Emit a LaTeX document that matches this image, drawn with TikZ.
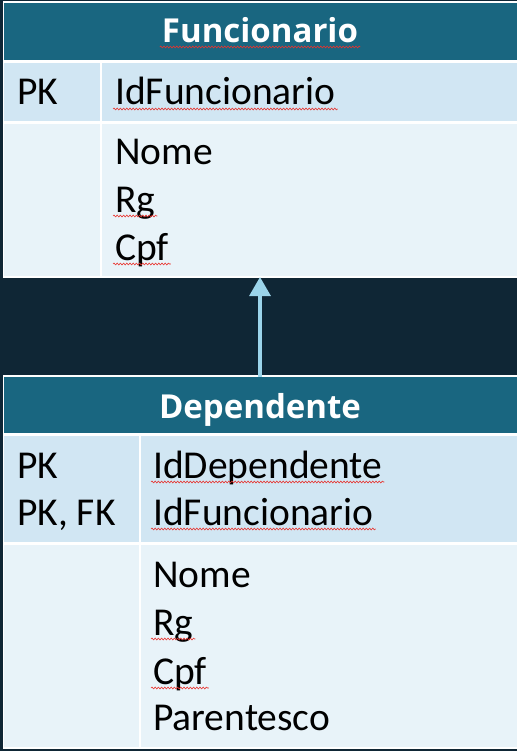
\documentclass[tikz,border=0pt]{standalone}
\usepackage{fontspec}
\setmainfont{Carlito}
\newfontfamily\hfont{Open Sans}
\usetikzlibrary{arrows.meta,calc,decorations.pathmorphing}
\definecolor{bgc}{HTML}{0F2635}
\definecolor{hdrc}{HTML}{196680}
\definecolor{keyc}{HTML}{D1E6F3}
\definecolor{attc}{HTML}{E8F3F9}
\definecolor{arrc}{HTML}{9BD4EA}
\definecolor{squigc}{HTML}{E8332E}
\begin{document}
\begin{tikzpicture}[x=1pt,y=-1pt,
  cell/.style={draw=none,inner sep=0pt,outer sep=0pt,anchor=north west},
  hdrcell/.style={cell,fill=hdrc},
  keycell/.style={cell,fill=keyc},
  attcell/.style={cell,fill=attc},
  txt/.style={inner sep=0pt,anchor=base west,font=\fontsize{39.5}{46}\selectfont,text=black},
  htxt/.style={inner sep=0pt,anchor=base,font=\hfont\bfseries\fontsize{33}{38}\selectfont,text=white},
  squig/.style={draw=squigc,line width=0.6pt,decorate,decoration={snake,amplitude=0.9pt,segment length=3.2pt}},
  rel/.style={draw=arrc,line width=3.2pt,-{Triangle[width=21pt,length=19pt]}}
]
\useasboundingbox (0,0) rectangle (517,751);
\fill[bgc] (0,0) rectangle (517,751);

% ---- Table 1: Funcionario
\fill[white] (3,1) rectangle (517,278);
\node[hdrcell,minimum width=513pt,minimum height=57pt] (h1) at (4,3) {};
\node[keycell,minimum width=96pt,minimum height=58pt] (k1a) at (4,63) {};
\node[keycell,minimum width=415pt,minimum height=58pt] (k1b) at (102,63) {};
\node[attcell,minimum width=96pt,minimum height=152pt] (a1a) at (4,124) {};
\node[attcell,minimum width=415pt,minimum height=152pt] (a1b) at (102,124) {};

\node[htxt] (t1) at (260,43) {Funcionario};
\node[txt] (pk1) at (17,105) {PK};
\node[txt] (idf1) at (115,105) {IdFuncionario};
\node[txt] (nome1) at (115,165) {Nome};
\node[txt] (rg1) at (115,212) {Rg};
\node[txt] (cpf1) at (115,260) {Cpf};

% ---- Table 2: Dependente
\fill[white] (3,375) rectangle (517,749);
\node[hdrcell,minimum width=513pt,minimum height=56pt] (h2) at (4,377) {};
\node[keycell,minimum width=135pt,minimum height=106pt] (k2a) at (4,436) {};
\node[keycell,minimum width=376pt,minimum height=106pt] (k2b) at (141,436) {};
\node[attcell,minimum width=135pt,minimum height=202pt] (a2a) at (4,545) {};
\node[attcell,minimum width=376pt,minimum height=202pt] (a2b) at (141,545) {};

\node[htxt] (t2) at (260,418) {Dependente};
\node[txt] (pk2) at (17,478) {PK};
\node[txt] (pkfk2) at (17,525) {PK, FK};
\node[txt] (idd2) at (153,478) {IdDependente};
\node[txt] (idf2) at (153,525) {IdFuncionario};
\node[txt] (nome2) at (153,587) {Nome};
\node[txt] (rg2) at (153,635) {Rg};
\node[txt] (cpf2) at (153,684) {Cpf};
\node[txt] (par2) at (153,730) {Parentesco};

% ---- spell-check squiggles
\foreach \n in {t1,idf1,rg1,cpf1,idd2,idf2,rg2,cpf2}{
  \draw[squig] ($(\n.base west)+(-2,4)$) -- ($(\n.base east)+(2,4)$);
}

% ---- relationship arrow
\coordinate (from) at (h2.north -| t1.south);
\coordinate (to) at (a1b.south -| t1.south);
\draw[rel] (from) -- ($(to)+(0,1)$);
\end{tikzpicture}
\end{document}
